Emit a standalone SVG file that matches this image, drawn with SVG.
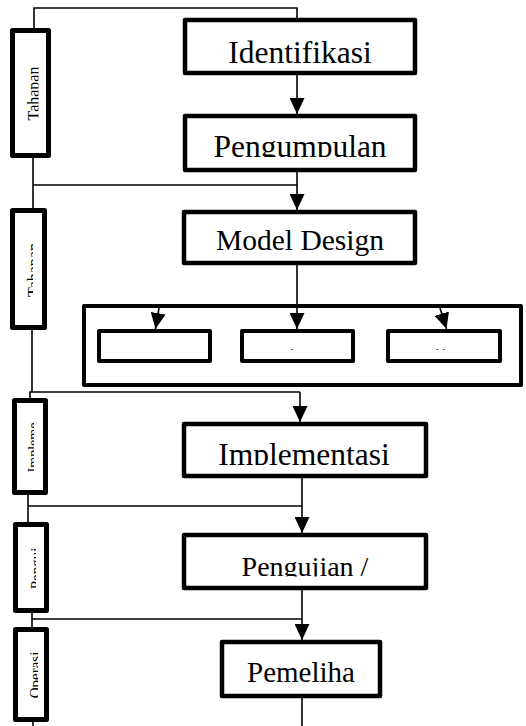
<svg xmlns="http://www.w3.org/2000/svg" width="526" height="726" viewBox="0 0 526 726">
<style>
.box{fill:#fff;stroke:#000;stroke-width:4.5;stroke-linejoin:round}
.side{fill:#fff;stroke:#000;stroke-width:5;stroke-linejoin:round}
.sm{fill:#fff;stroke:#000;stroke-width:4;stroke-linejoin:round}
.ln{fill:none;stroke:#000;stroke-width:1.6}
.t{font-family:"Liberation Serif","Times New Roman",serif;fill:#000;text-anchor:middle}
.st{font-family:"Liberation Serif","Times New Roman",serif;fill:#000;font-size:12px}
</style>
<defs>
<marker id="ah" viewBox="0 0 16 15" refX="16" refY="7.5" markerWidth="16" markerHeight="15" markerUnits="userSpaceOnUse" orient="auto">
<path d="M0,0 L16,7.5 L0,15 Z" fill="#000"/>
</marker>
<clipPath id="cPeng"><rect x="0" y="0" width="526" height="157"/></clipPath>
<clipPath id="cImpl"><rect x="0" y="0" width="526" height="465"/></clipPath>
<clipPath id="cUji"><rect x="0" y="0" width="526" height="576.5"/></clipPath>
<clipPath id="cSmall"><rect x="0" y="0" width="526" height="350"/></clipPath>
<clipPath id="cS1"><rect x="0" y="0" width="38.5" height="726"/></clipPath>
<clipPath id="cS2"><rect x="0" y="0" width="33" height="726"/></clipPath>
<clipPath id="cS3"><rect x="0" y="0" width="34" height="726"/></clipPath>
<clipPath id="cS4"><rect x="0" y="0" width="36" height="726"/></clipPath>
<clipPath id="cS5"><rect x="0" y="0" width="38" height="726"/></clipPath>
</defs>

<g id="side1">
<rect class="side" x="12.5" y="30.5" width="36" height="125"/>
<g clip-path="url(#cS1)"><text class="t" font-size="16" transform="translate(38.5,93.5) rotate(-90)">Tahapan</text></g>
</g>
<g id="side2">
<rect class="side" x="12.5" y="210.5" width="32" height="117"/>
<g clip-path="url(#cS2)"><text class="t" font-size="16" transform="translate(39,270) rotate(-90)">Tahapan</text></g>
</g>
<g id="side3">
<rect class="side" x="14.5" y="400.5" width="31" height="92"/>
<g clip-path="url(#cS3)"><text class="t" font-size="14" transform="translate(37.5,447.5) rotate(-90)">Impleme</text></g>
</g>
<g id="side4">
<rect class="side" x="15.5" y="524.5" width="31" height="86"/>
<g clip-path="url(#cS4)"><text class="t" font-size="15" transform="translate(40.5,568.5) rotate(-90)">Pengui</text></g>
</g>
<g id="side5">
<rect class="side" x="15.5" y="629.5" width="31" height="90"/>
<g clip-path="url(#cS5)"><text class="t" font-size="15" transform="translate(40,675) rotate(-90)">Operasi</text></g>
</g>

<g id="identifikasi">
<rect class="box" x="185" y="20" width="230" height="53"/>
<text class="t" font-size="31.5" x="300" y="62.5">Identifikasi</text>
</g>
<g id="pengumpulan">
<rect class="box" x="185" y="116" width="230" height="54"/>
<g clip-path="url(#cPeng)"><text class="t" font-size="31.5" x="300" y="157">Pengumpulan</text></g>
</g>
<g id="model-design">
<rect class="box" x="184" y="212" width="231" height="51"/>
<text class="t" font-size="29.5" x="300" y="250">Model Design</text>
</g>
<g id="design-container">
<rect class="sm" x="84" y="306" width="437" height="79"/>
</g>
<g id="sistem">
<rect class="sm" x="99" y="331" width="111" height="30"/>
<g clip-path="url(#cSmall)"><text class="st" x="130" y="357.5">Sistem</text></g>
</g>
<g id="database">
<rect class="sm" x="242" y="331" width="111" height="30"/>
<g clip-path="url(#cSmall)"><text class="st" x="268" y="357.5">Database</text></g>
</g>
<g id="aplikasi">
<rect class="sm" x="388" y="331" width="112" height="30"/>
<g clip-path="url(#cSmall)"><text class="st" x="421" y="357.5">Aplikasi</text></g>
</g>
<g id="implementasi">
<rect class="box" x="184" y="424" width="242" height="52"/>
<g clip-path="url(#cImpl)"><text class="t" font-size="31.5" x="304" y="465">Implementasi</text></g>
</g>
<g id="pengujian">
<rect class="box" x="184" y="535" width="242" height="53"/>
<g clip-path="url(#cUji)"><text class="t" font-size="28" x="305" y="576">Pengujian /</text></g>
</g>
<g id="pemeliharaan">
<rect class="box" x="222" y="642" width="158" height="54"/>
<text class="t" font-size="29" x="301" y="682">Pemeliha</text>
</g>

<g id="connectors">
<polyline class="ln" points="34,28 34,8 297,8 297,18"/>
<line class="ln" x1="297" y1="75" x2="297" y2="114" marker-end="url(#ah)"/>
<line class="ln" x1="33" y1="158" x2="33" y2="208"/>
<line class="ln" x1="33" y1="185" x2="297" y2="185"/>
<line class="ln" x1="297" y1="172" x2="297" y2="210" marker-end="url(#ah)"/>
<line class="ln" x1="297" y1="265" x2="297" y2="329" marker-end="url(#ah)"/>
<line class="ln" x1="159" y1="308" x2="155.5" y2="329" marker-end="url(#ah)"/>
<line class="ln" x1="440" y1="308" x2="446.5" y2="329" marker-end="url(#ah)"/>
<line class="ln" x1="32" y1="330" x2="32" y2="392"/>
<polyline class="ln" points="30,398 30,392 300,392"/>
<line class="ln" x1="300" y1="392" x2="300" y2="422" marker-end="url(#ah)"/>
<line class="ln" x1="28" y1="495" x2="28" y2="522"/>
<line class="ln" x1="28" y1="506" x2="302" y2="506"/>
<line class="ln" x1="302" y1="478" x2="302" y2="533" marker-end="url(#ah)"/>
<line class="ln" x1="32" y1="613" x2="32" y2="627"/>
<line class="ln" x1="32" y1="619" x2="302" y2="619"/>
<line class="ln" x1="302" y1="590" x2="302" y2="640" marker-end="url(#ah)"/>
<line class="ln" x1="302" y1="698" x2="302" y2="726"/>
<line class="ln" x1="33" y1="722" x2="33" y2="726"/>
</g>
</svg>
